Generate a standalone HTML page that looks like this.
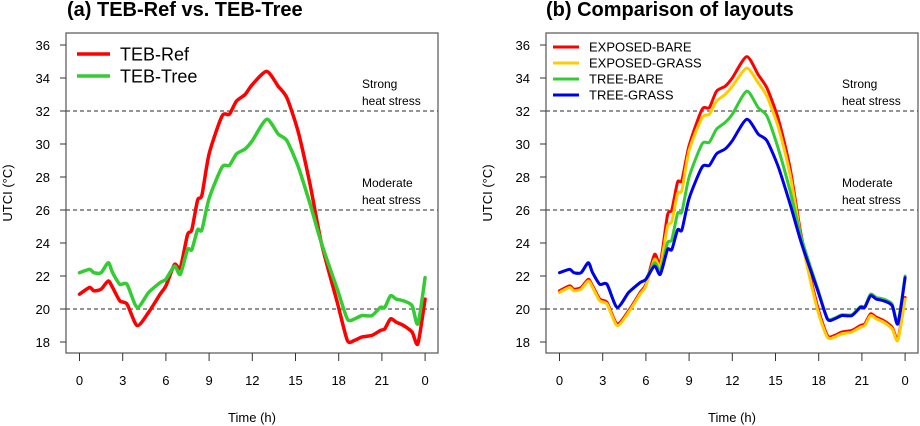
<!DOCTYPE html>
<html><head><meta charset="utf-8"><style>
body{margin:0;background:#fff;}
svg{display:block;font-family:"Liberation Sans",Arial,sans-serif;}
</style></head><body>
<svg id="chart" width="920" height="426" viewBox="0 0 920 426" xmlns="http://www.w3.org/2000/svg"></svg>
<script>
const hours = [0,0.7,1,1.5,2,2.3,2.8,3.3,4,4.8,5.6,6,6.6,7,7.5,7.8,8.2,8.5,9,9.9,10.4,10.9,11.5,12,13,13.8,14.4,15.2,16,16.8,17.9,18.6,19.1,19.6,20.3,20.9,21.2,21.6,22,22.5,23.1,23.5,24];
const tebRef = [20.9,21.3,21.1,21.2,21.7,21.3,20.5,20.3,19.0,19.8,20.9,21.4,22.7,22.5,24.5,24.8,26.6,26.9,29.4,31.7,31.8,32.6,33.0,33.6,34.4,33.5,32.8,30.7,27.6,24.0,20.4,18.1,18.1,18.3,18.4,18.7,18.8,19.4,19.2,19.0,18.6,17.9,20.6];
const tebTree = [22.2,22.4,22.2,22.2,22.8,22.2,21.5,21.5,20.1,21.0,21.6,21.8,22.6,22.1,23.6,23.6,24.8,24.8,26.7,28.6,28.7,29.4,29.7,30.2,31.5,30.6,30.2,28.6,26.4,24.0,21.2,19.4,19.4,19.6,19.6,20.1,20.1,20.8,20.6,20.5,20.2,19.1,21.9];
const exposedBare = [21.1,21.4,21.2,21.3,21.8,21.4,20.6,20.4,19.1,19.9,21.0,21.5,23.3,22.8,25.7,26.0,27.7,27.8,29.9,32.1,32.2,33.2,33.5,34.0,35.3,34.2,33.4,31.5,28.6,24.4,20.2,18.4,18.4,18.6,18.7,19.0,19.1,19.7,19.5,19.3,18.9,18.2,20.7];
const exposedGrass = [21.0,21.3,21.1,21.2,21.7,21.3,20.5,20.3,19.0,19.8,20.9,21.4,23.0,22.6,25.0,25.3,27.0,27.2,29.6,31.6,31.8,32.6,33.0,33.5,34.6,33.7,32.9,31.0,28.2,24.2,20.0,18.3,18.3,18.5,18.6,18.9,19.0,19.6,19.4,19.2,18.8,18.1,20.6];
const treeBare = [22.2,22.4,22.2,22.2,22.8,22.2,21.5,21.5,20.1,21.0,21.6,21.8,22.8,22.3,24.0,24.2,25.8,25.9,28.0,30.0,30.1,30.9,31.3,31.8,33.2,32.2,31.7,29.7,27.2,24.3,21.3,19.45,19.45,19.65,19.65,20.15,20.15,20.9,20.7,20.6,20.3,19.2,22.0];
const treeGrass = tebTree.slice();
const yTicks = [18,20,22,24,26,28,30,32,34,36];
const xTickHours = [0,3,6,9,12,15,18,21,24];
const xTickLabels = ["0","3","6","9","12","15","18","21","0"];
const thresholds = [20,26,32];

const svg = document.getElementById('chart');
const NS = 'http://www.w3.org/2000/svg';
function mk(tag, attrs, parent){const e=document.createElementNS(NS,tag);for(const k in attrs)e.setAttribute(k,attrs[k]);(parent||svg).appendChild(e);return e;}
function smoothPath(pts){
  let d='M'+pts[0][0].toFixed(1)+','+pts[0][1].toFixed(1);
  const k=0.12;
  for(let i=0;i<pts.length-1;i++){
    const p0=pts[i-1]||pts[i],p1=pts[i],p2=pts[i+1],p3=pts[i+2]||p2;
    const c1x=p1[0]+(p2[0]-p0[0])*k,c1y=p1[1]+(p2[1]-p0[1])*k;
    const c2x=p2[0]-(p3[0]-p1[0])*k,c2y=p2[1]-(p3[1]-p1[1])*k;
    d+=' C'+c1x.toFixed(1)+','+c1y.toFixed(1)+' '+c2x.toFixed(1)+','+c2y.toFixed(1)+' '+p2[0].toFixed(1)+','+p2[1].toFixed(1);
  }
  return d;
}

function panel(p){
  const g = mk('g',{});
  
  
  const L=p.left, R=p.left+372, T=33, B=353;
  const x0=L+13.5, xs=14.4;
  const X=h=>x0+h*xs;
  const Y=v=>45+(36-v)*16.5;
  const t=mk('text',{x:p.left+p.titleOff,y:16,'font-size':'20','font-weight':'bold',fill:'#000'},g);
  t.textContent=p.title;
  
  
  thresholds.forEach(v=>{
    const l=mk('line',{x1:L,x2:R,y1:Y(v),y2:Y(v),stroke:'#555','stroke-width':1.2,'stroke-dasharray':'4,3'},g);
    
    
  });
  const ann=[["Strong",84],["heat stress",101],["Moderate",183],["heat stress",200]];
  ann.forEach(a=>{const tx=mk('text',{x:L+296,y:a[1]+4,'font-size':'12',fill:'#000'},g);tx.textContent=a[0];
    
    });
  p.series.forEach(s=>{
    const pts=hours.map((h,i)=>[X(h),Y(s.v[i])]);
    const path=mk('path',{d:smoothPath(pts),fill:'none',stroke:s.c,'stroke-width':p.lw,'stroke-linejoin':'round','stroke-linecap':'round'},g);
    
    
  });
  const box=mk('rect',{x:L,y:T,width:R-L,height:B-T,fill:'none',stroke:'#555','stroke-width':1.2},g);
  
  
  yTicks.forEach(v=>{
    mk('line',{x1:L-6,x2:L,y1:Y(v),y2:Y(v),stroke:'#333','stroke-width':1},g);
    const tx=mk('text',{x:L-16,y:Y(v)+5,'font-size':'13','text-anchor':'end'},g);tx.textContent=v;
    
    
  });
  xTickHours.forEach((h,i)=>{
    mk('line',{x1:X(h),x2:X(h),y1:B,y2:B+8,stroke:'#333','stroke-width':1},g);
    const tx=mk('text',{x:X(h),y:385,'font-size':'13','text-anchor':'middle'},g);tx.textContent=xTickLabels[i];
    
    
  });
  const xt=mk('text',{x:(L+R)/2,y:422,'font-size':'13','text-anchor':'middle'},g);xt.textContent='Time (h)';
  
  
  const yt=mk('text',{x:0,y:0,'font-size':'13','text-anchor':'middle',transform:`translate(${L-54},${(T+B)/2}) rotate(-90)`},g);yt.textContent='UTCI (°C)';
  
  
  p.series.forEach((s,i)=>{
    const ly=p.legY+i*p.legStep;
    mk('line',{x1:L+p.legX1,x2:L+p.legX2,y1:ly,y2:ly,stroke:s.c,'stroke-width':p.legLw},g);
    const tx=mk('text',{x:L+p.legTx,y:ly+p.legFs*0.36,'font-size':p.legFs},g);tx.textContent=s.label;
    
    
  });
}
panel({id:'a',left:66,titleOff:1,title:'(a) TEB-Ref vs. TEB-Tree',lw:3.5,
  series:[{name:'teb-ref',label:'TEB-Ref',c:'#ff0000',v:tebRef},{name:'teb-tree',label:'TEB-Tree',c:'#33cc33',v:tebTree}],
  legY:54,legStep:22,legX1:11,legX2:44,legTx:54,legFs:18,legLw:3.5});
panel({id:'b',left:546,titleOff:0,title:'(b) Comparison of layouts',lw:3,
  series:[{name:'exposed-bare',label:'EXPOSED-BARE',c:'#ff0000',v:exposedBare},{name:'exposed-grass',label:'EXPOSED-GRASS',c:'#ffcc00',v:exposedGrass},{name:'tree-bare',label:'TREE-BARE',c:'#33cc33',v:treeBare},{name:'tree-grass',label:'TREE-GRASS',c:'#0000ee',v:treeGrass}],
  legY:47,legStep:16,legX1:7,legX2:33,legTx:43,legFs:13,legLw:3});
</script>
</body></html>
